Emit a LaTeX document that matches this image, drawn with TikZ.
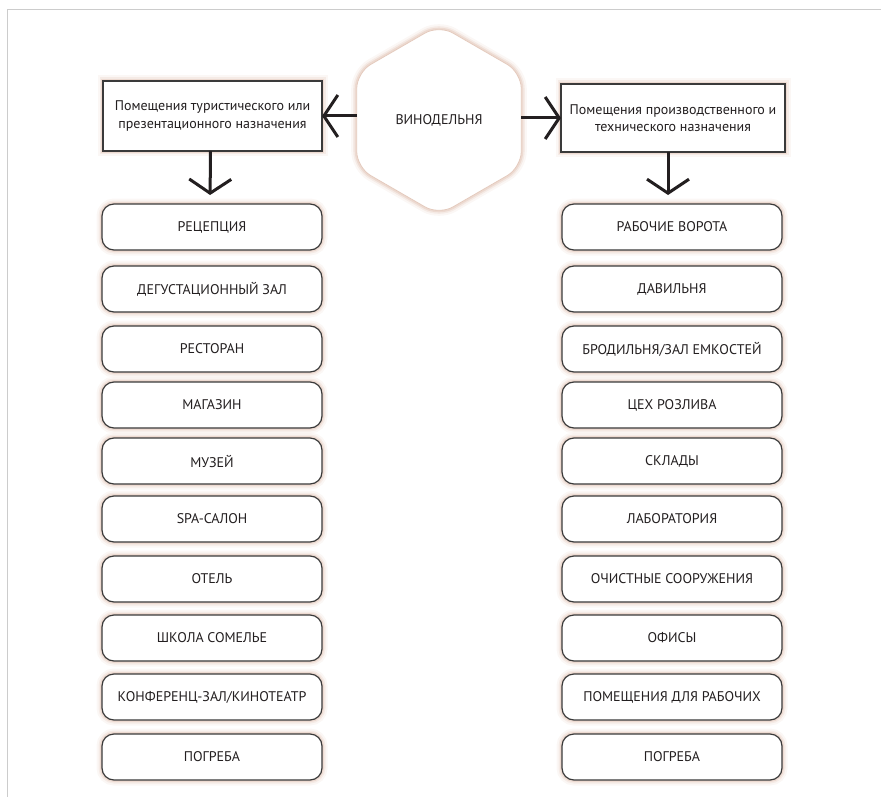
\documentclass[tikz,border=0pt]{standalone}
\usepackage{fontspec}
\setmainfont{PT Sans}
\usetikzlibrary{arrows.meta,shapes.geometric}
\definecolor{ink}{HTML}{231F20}
\definecolor{edge}{HTML}{3A3A3A}
\definecolor{halo}{HTML}{D9B3A0}
\definecolor{frame}{HTML}{CCCCCC}
\tikzset{
  glow/.style={
    preaction={draw=halo,line width=11pt,opacity=.10},
    preaction={draw=halo,line width=7pt,opacity=.18},
    preaction={draw=halo,line width=4pt,opacity=.30}},
  item/.style={glow, draw=edge, line width=1.2pt, fill=white, rounded corners=12pt,
    minimum width=220pt, minimum height=46pt, inner sep=0pt, outer sep=0pt,
    font=\fontsize{14}{16}\selectfont, text=ink},
  header/.style={glow, draw=edge, line width=1.4pt, fill=white, inner sep=0pt,
    outer sep=0pt, align=center, font=\fontsize{14}{17.5}\selectfont, text=ink},
  hexa/.style={glow, regular polygon, regular polygon sides=6, shape border rotate=30,
    minimum size=190pt, inner sep=0pt, outer sep=0pt, rounded corners=16pt,
    draw=halo!70, line width=.8pt, fill=white,
    font=\fontsize{14}{16}\selectfont, text=ink},
  flow/.style={draw=ink, line width=3pt,
    -{Straight Barb[length=14pt,width=42pt,line width=3pt]}}
}
\begin{document}
\begin{tikzpicture}[x=1pt,y=-1pt]
  \useasboundingbox (0,0) rectangle (881,797);
  % page frame
  \draw[frame, line width=1pt] (7,797) -- (7,10) -- (881,10);

  % centre and the two groups
  \node[hexa] (hex) at (439,120) {ВИНОДЕЛЬНЯ};
  \node[header, minimum width=219pt, minimum height=70pt] (lhead) at (212.5,116)
    {Помещения туристического или\\презентационного назначения};
  \node[header, minimum width=224pt, minimum height=68pt] (rhead) at (673,118)
    {Помещения производственного и\\технического назначения};

  % tourist / presentation rooms
  \node[item] (l1)  at (212,227) {РЕЦЕПЦИЯ};
  \node[item] (l2)  at (212,289) {ДЕГУСТАЦИОННЫЙ ЗАЛ};
  \node[item] (l3)  at (212,349) {РЕСТОРАН};
  \node[item] (l4)  at (212,405) {МАГАЗИН};
  \node[item] (l5)  at (212,461) {МУЗЕЙ};
  \node[item] (l6)  at (212,519) {SPA-САЛОН};
  \node[item] (l7)  at (212,579) {ОТЕЛЬ};
  \node[item] (l8)  at (212,638) {ШКОЛА СОМЕЛЬЕ};
  \node[item] (l9)  at (212,697) {КОНФЕРЕНЦ-ЗАЛ/КИНОТЕАТР};
  \node[item] (l10) at (212,757) {ПОГРЕБА};

  % production / technical rooms
  \node[item] (r1)  at (672,227) {РАБОЧИЕ ВОРОТА};
  \node[item] (r2)  at (672,289) {ДАВИЛЬНЯ};
  \node[item] (r3)  at (672,349) {БРОДИЛЬНЯ/ЗАЛ ЕМКОСТЕЙ};
  \node[item] (r4)  at (672,405) {ЦЕХ РОЗЛИВА};
  \node[item] (r5)  at (672,461) {СКЛАДЫ};
  \node[item] (r6)  at (672,519) {ЛАБОРАТОРИЯ};
  \node[item] (r7)  at (672,579) {ОЧИСТНЫЕ СООРУЖЕНИЯ};
  \node[item] (r8)  at (672,638) {ОФИСЫ};
  \node[item] (r9)  at (672,697) {ПОМЕЩЕНИЯ ДЛЯ РАБОЧИХ};
  \node[item] (r10) at (672,757) {ПОГРЕБА};

  % arrows
  \draw[flow] (hex.west |- lhead.east) -- (lhead.east);
  \draw[flow] (hex.east |- rhead.west) -- (rhead.west);
  \draw[flow, shorten >=9pt] ([xshift=-2pt]lhead.south) -- ([xshift=-2pt]l1.north);
  \draw[flow, shorten >=9pt] ([xshift=-5pt]rhead.south) -- ([xshift=-4pt]r1.north);
\end{tikzpicture}
\end{document}
